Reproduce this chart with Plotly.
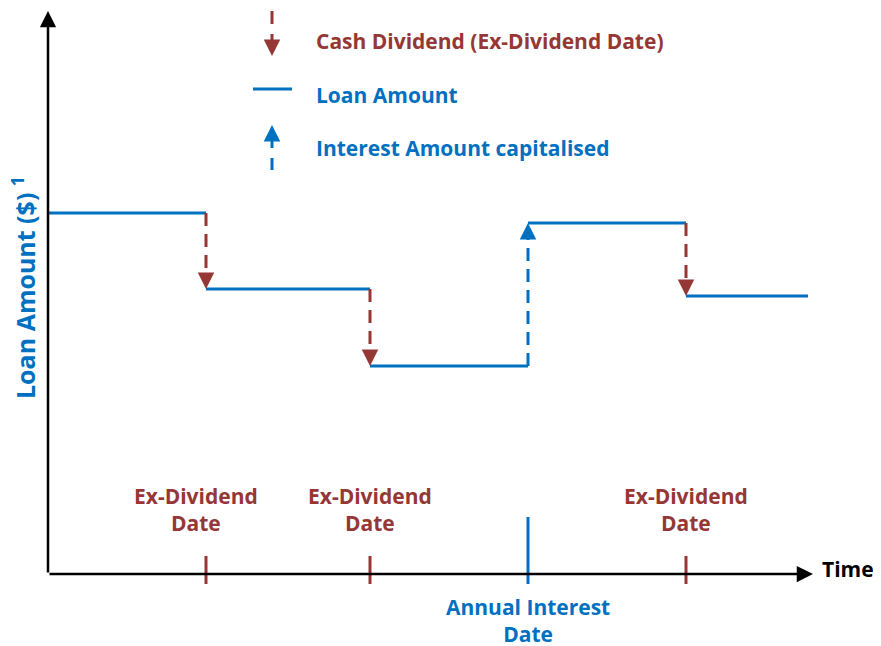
import plotly.graph_objects as go

# ---- data (schematic units) ----
event_times = [0, 158, 322, 480, 638, 760]          # start, events..., end of time line
event_types = ["dividend", "dividend", "interest", "dividend"]
loan_levels = [361, 285, 208, 351, 278]             # loan amount between events
event_labels = {"dividend": "Ex-Dividend<br>Date", "interest": "Annual Interest<br>Date"}

RED = "#953735"
BLUE = "#0070C0"
FONT = "Open Sans"
FS = 21

fig = go.Figure()

# Loan amount horizontal segments
xs, ys = [], []
for i, lv in enumerate(loan_levels):
    xs += [event_times[i], event_times[i + 1], None]
    ys += [lv, lv, None]
fig.add_trace(go.Scatter(x=xs, y=ys, mode="lines",
                         line=dict(color=BLUE, width=3), hoverinfo="skip"))

annotations = []
shapes = []

# Transitions (dashed arrows) and tick marks with labels
for k, et in enumerate(event_types):
    t = event_times[k + 1]
    y0, y1 = loan_levels[k], loan_levels[k + 1]
    col = RED if et == "dividend" else BLUE
    fig.add_trace(go.Scatter(x=[t, t], y=[y0, y1 + (12 if y1 < y0 else -12)], mode="lines",
                             line=dict(color=col, width=3, dash="13px,8px"), hoverinfo="skip"))
    annotations.append(dict(x=t, y=y1, ax=0, ay=(-16 if y1 < y0 else 16), xref="x", yref="y",
                            axref="pixel", ayref="pixel", showarrow=True, arrowhead=2,
                            arrowsize=1.1, arrowwidth=3, arrowcolor=col, text="", standoff=0))
    if et == "dividend":
        shapes.append(dict(type="line", x0=t, x1=t, y0=-10, y1=18, xref="x", yref="y",
                           line=dict(color=col, width=3)))
        annotations.append(dict(x=t - (10 if k == 0 else 0), y=65, xref="x", yref="y",
                                text="<b>" + event_labels[et] + "</b>", showarrow=False,
                                font=dict(family=FONT, size=FS, color=col), align="center"))
    else:
        shapes.append(dict(type="line", x0=t, x1=t, y0=-10, y1=57, xref="x", yref="y",
                           line=dict(color=col, width=3)))
        annotations.append(dict(x=t, y=-46, xref="x", yref="y",
                                text="<b>" + event_labels[et] + "</b>", showarrow=False,
                                font=dict(family=FONT, size=FS, color=col), align="center"))

# Axes (black lines with arrowheads)
annotations.append(dict(x=0, y=563, ax=0, ay=0, xref="x", yref="y", axref="x", ayref="y",
                        showarrow=True, arrowhead=2, arrowsize=1.3, arrowwidth=2.5,
                        arrowcolor="black", text="", standoff=0))
annotations.append(dict(x=765, y=0, ax=0, ay=0, xref="x", yref="y", axref="x", ayref="y",
                        showarrow=True, arrowhead=2, arrowsize=1.3, arrowwidth=2.5,
                        arrowcolor="black", text="", standoff=0))
annotations.append(dict(x=772, y=5, xref="x", yref="y", text="<b>Time</b>", showarrow=False,
                        xanchor="left", font=dict(family=FONT, size=FS, color="black")))
annotations.append(dict(x=-25, y=286, xref="x", yref="y",
                        text="<b>Loan Amount ($) <sup>1</sup></b>", showarrow=False, textangle=-90,
                        font=dict(family=FONT, size=25, color=BLUE)))

# Legend (manual)
leg_x = 224
annotations.append(dict(x=leg_x, y=518, ax=0, ay=-16, xref="x", yref="y", axref="pixel",
                        ayref="pixel", showarrow=True, arrowhead=2, arrowsize=1.1, arrowwidth=3,
                        arrowcolor=RED, text="", standoff=0))
shapes.append(dict(type="line", x0=leg_x, x1=leg_x, y0=563, y1=528, xref="x", yref="y",
                   line=dict(color=RED, width=3, dash="13px,10px")))
shapes.append(dict(type="line", x0=205, x1=244, y0=485, y1=485, xref="x", yref="y",
                   line=dict(color=BLUE, width=3)))
annotations.append(dict(x=leg_x, y=449, ax=0, ay=16, xref="x", yref="y", axref="pixel",
                        ayref="pixel", showarrow=True, arrowhead=2, arrowsize=1.1, arrowwidth=3,
                        arrowcolor=BLUE, text="", standoff=0))
shapes.append(dict(type="line", x0=leg_x, x1=leg_x, y0=439, y1=404, xref="x", yref="y",
                   line=dict(color=BLUE, width=3, dash="13px,10px")))
for txt, yy, col in [("Cash Dividend (Ex-Dividend Date)", 533, RED),
                     ("Loan Amount", 479, BLUE),
                     ("Interest Amount capitalised", 426, BLUE)]:
    annotations.append(dict(x=266, y=yy, xref="x", yref="y", text="<b>" + txt + "</b>",
                            showarrow=False, xanchor="left",
                            font=dict(family=FONT, size=FS, color=col)))

# The page body has an 8px margin, so the figure is 8px smaller and the ranges are shifted.
fig.update_layout(
    width=873, height=638, margin=dict(l=0, r=0, t=0, b=0),
    plot_bgcolor="white", paper_bgcolor="white", showlegend=False,
    xaxis=dict(range=[-40, 833], visible=False, fixedrange=True),
    yaxis=dict(range=[-72, 566], visible=False, fixedrange=True),
    annotations=annotations, shapes=shapes,
)
fig.write_html("out.html")
